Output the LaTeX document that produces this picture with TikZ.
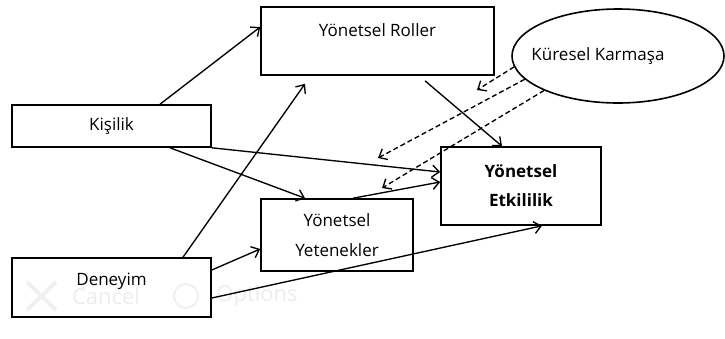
\documentclass[tikz,border=0pt]{standalone}
\usepackage{fontspec}
\setmainfont{Open Sans}
\usepackage{tikz}
\usetikzlibrary{arrows.meta}
\usetikzlibrary{shapes.geometric}

\begin{document}
\begin{tikzpicture}[x=1pt,y=-1pt,line width=1.6pt,
    >={Straight Barb[length=7pt,width=12pt]},
    kutu/.style={draw,rectangle,align=center,font=\fontsize{17}{30}\selectfont},
    etki/.style={->,line width=1.35pt},
    aracı/.style={->,line width=1.35pt,dash pattern=on 5pt off 3pt},
    silik/.style={text=black!7,font=\fontsize{22}{26}\selectfont}]
  \useasboundingbox (0,0) rectangle (725,338);
  % faint dialog left behind in the screenshot
  \node[silik] (iptal) at (106,296) {Cancel};
  \node[silik] (secenek) at (257,296) {Options};
  \draw[black!6,line width=4pt] (27,282) -- (56,310) (56,282) -- (27,310);
  \draw[black!6,line width=2pt] (186,296) circle (12);
  % boxes
  \node[kutu,anchor=base,minimum width=233pt,inner ysep=0pt,text height=29pt,text depth=39pt]
    (roller) at (377.5,36) {Yönetsel Roller};
  \node[draw,ellipse,minimum width=212pt,minimum height=94pt,inner sep=0pt,font=\fontsize{17}{20}\selectfont]
    (kuresel) at (618,56) {\makebox[0pt]{Küresel Karmaşa\hspace*{40pt}}};
  \node[kutu,minimum width=199pt,minimum height=42pt] (kisilik) at (111.5,126) {Kişilik};
  \node[kutu,anchor=base,minimum width=199pt,inner ysep=0pt,text height=27pt,text depth=32pt]
    (deneyim) at (111.5,285) {Deneyim};
  \node[kutu,minimum width=152pt,minimum height=72pt] (yetenek) at (337,235) {Yönetsel\\Yetenekler};
  \node[kutu,minimum width=160pt,minimum height=78pt,font=\fontsize{17}{29}\selectfont\bfseries]
    (etkililik) at (521,186) {Yönetsel\\Etkililik};
  % free ends of the dashed arrows
  \coordinate (modRol) at (477,90);
  \coordinate (modKis) at (378,158);
  \coordinate (modYet) at (382,188);
  % direct effects
  \draw[etki] ([xshift=48.5pt]kisilik.north) -- ([yshift=14pt]roller.west);
  \draw[etki] ([xshift=71.5pt]deneyim.north) -- ([xshift=-72.5pt,yshift=-8pt]roller.south);
  \draw[etki] (kisilik.south east) -- ([yshift=14pt]etkililik.west);
  \draw[etki] ([xshift=58.5pt]kisilik.south) -- ([xshift=-32pt]yetenek.north);
  \draw[etki] ([xshift=16pt]yetenek.north) -- ([yshift=4pt]etkililik.west);
  \draw[etki] ([yshift=17.5pt]deneyim.east) -- ([yshift=-14pt]yetenek.west);
  \draw[etki] ([yshift=-10.5pt]deneyim.east) -- ([xshift=21pt]etkililik.south);
  \draw[etki] ([xshift=47.5pt,yshift=-5pt]roller.south) -- ([xshift=-19pt]etkililik.north);
  % moderation
  \draw[aracı] (kuresel.186) -- (modRol);
  \draw[aracı] (kuresel.194) -- (modKis);
  \draw[aracı] (kuresel.205) -- (modYet);
\end{tikzpicture}
\end{document}
